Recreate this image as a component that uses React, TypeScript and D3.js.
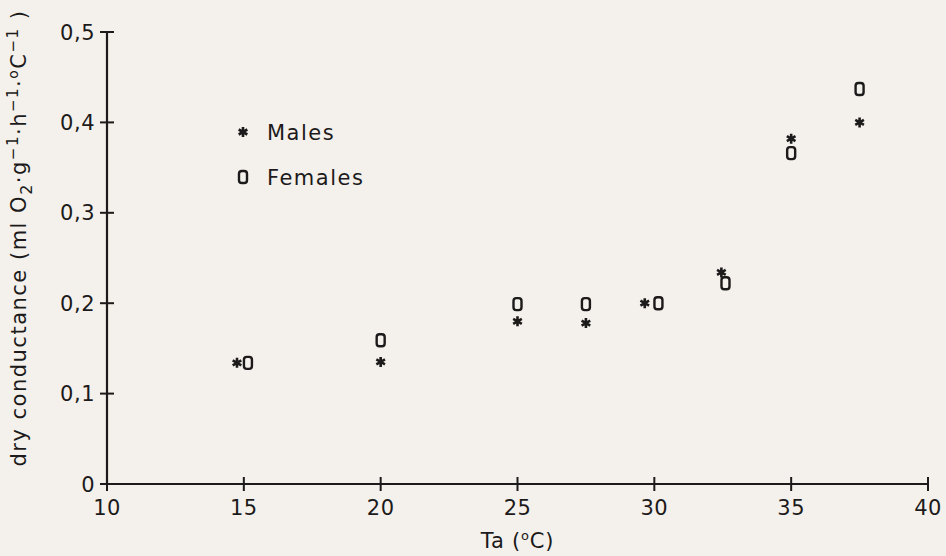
import React from "react";
import * as d3 from "d3";

// Dry conductance against ambient temperature, males and females
const maleTa = [14.75, 20, 25, 27.5, 29.65, 32.45, 35, 37.5];
const maleCond = [0.134, 0.135, 0.18, 0.178, 0.2, 0.234, 0.382, 0.4];
const femaleTa = [15.15, 20, 25, 27.5, 30.15, 32.6, 35, 37.5];
const femaleCond = [0.134, 0.159, 0.199, 0.199, 0.2, 0.222, 0.366, 0.437];
const xTicks = [10, 15, 20, 25, 30, 35, 40];
const yTicks = [0, 0.1, 0.2, 0.3, 0.4, 0.5];
const yTickLabels = ["0", "0,1", "0,2", "0,3", "0,4", "0,5"];

const W = 946;
const H = 556;
const INK = "#1c1a1a";
const BG = "#f4f1ec";
const FONT = "'DejaVu Sans', 'Liberation Sans', sans-serif";

const x = d3.scaleLinear().domain([10, 40]).range([107, 928]);
const y = d3.scaleLinear().domain([0, 0.5]).range([484, 32]);

function Star({ cx, cy }: { cx: number; cy: number }) {
  const r = 5;
  const path = d3.path();
  for (let i = 0; i < 3; i++) {
    const a = (Math.PI / 3) * i + Math.PI / 2;
    path.moveTo(cx + r * Math.cos(a), cy + r * Math.sin(a));
    path.lineTo(cx - r * Math.cos(a), cy - r * Math.sin(a));
  }
  return <path d={path.toString()} stroke={INK} strokeWidth={2.6} fill="none" />;
}

function Zero({ cx, cy }: { cx: number; cy: number }) {
  return (
    <rect
      x={cx - 4}
      y={cy - 6}
      width={8}
      height={12}
      rx={2.8}
      ry={2.8}
      fill="none"
      stroke={INK}
      strokeWidth={2.4}
    />
  );
}

export default function App() {
  const [x0, x1] = x.range();
  const [y0, y1] = y.range();
  return (
    <svg
      width={W}
      height={H}
      style={{ position: "absolute", left: 0, top: 0, background: BG }}
      fontFamily={FONT}
    >
      <rect width={W} height={H} fill={BG} />
      {/* axes */}
      <line x1={x0} x2={x0} y1={y0} y2={y1} stroke={INK} strokeWidth={2.2} />
      <line x1={x0} x2={x1} y1={y0} y2={y0} stroke={INK} strokeWidth={2.2} />
      {yTicks.map((t, i) => (
        <g key={"y" + t}>
          <line x1={x0 - 7} x2={x0 + 7} y1={y(t)} y2={y(t)} stroke={INK} strokeWidth={2} />
          <text
            x={x0 - 12}
            y={y(t)}
            dy="0.36em"
            textAnchor="end"
            fontSize={21}
            letterSpacing={0.5}
            fill={INK}
          >
            {yTickLabels[i]}
          </text>
        </g>
      ))}
      {xTicks.map((t) => (
        <g key={"x" + t}>
          <line x1={x(t)} x2={x(t)} y1={y0 - 7} y2={y0 + 7} stroke={INK} strokeWidth={2} />
          <text
            x={x(t)}
            y={y0 + 31}
            textAnchor="middle"
            fontSize={21}
            letterSpacing={0.5}
            fill={INK}
          >
            {t}
          </text>
        </g>
      ))}
      {/* axis titles */}
      <text
        x={(x0 + x1) / 2}
        y={548}
        textAnchor="middle"
        fontSize={21}
        letterSpacing={0.8}
        fill={INK}
      >
        Ta (
        <tspan fontSize={13} dy={-8}>o</tspan>
        <tspan dy={8}>C)</tspan>
      </text>
      <text
        transform={`translate(26, 238) rotate(-90)`}
        textAnchor="middle"
        fontSize={21}
        letterSpacing={1.5}
        fill={INK}
      >
        dry conductance (ml O
        <tspan fontSize={16} dy={6}>2</tspan>
        <tspan dy={-6}>·g</tspan>
        <tspan fontSize={15} dy={-8}>−1</tspan>
        <tspan dy={8}>·h</tspan>
        <tspan fontSize={15} dy={-8}>−1</tspan>
        <tspan dy={8}>·</tspan>
        <tspan fontSize={14} dy={-8}>o</tspan>
        <tspan dy={8}>C</tspan>
        <tspan fontSize={15} dy={-8}>−1</tspan>
        <tspan dy={8}> )</tspan>
      </text>
      {/* data */}
      {maleTa.map((t, i) => (
        <Star key={"m" + i} cx={x(t)} cy={y(maleCond[i])} />
      ))}
      {femaleTa.map((t, i) => (
        <Zero key={"f" + i} cx={x(t)} cy={y(femaleCond[i])} />
      ))}
      {/* legend */}
      <Star cx={243} cy={132} />
      <text x={267} y={132} dy="0.36em" fontSize={21} letterSpacing={1.5} fill={INK}>
        Males
      </text>
      <Zero cx={243} cy={177} />
      <text x={267} y={177} dy="0.36em" fontSize={21} letterSpacing={1.5} fill={INK}>
        Females
      </text>
    </svg>
  );
}
